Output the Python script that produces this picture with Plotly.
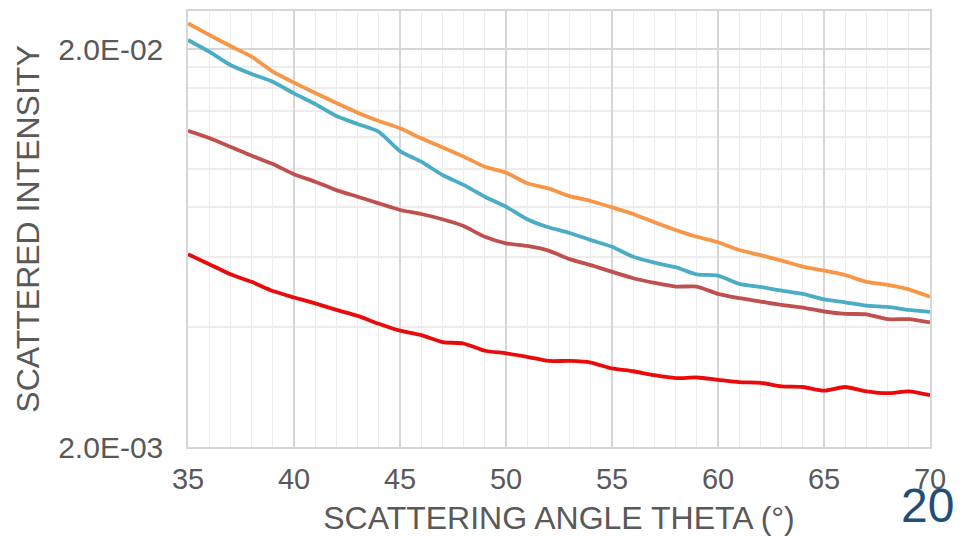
import plotly.graph_objects as go

# scattering angle, degrees
theta = list(range(35, 71))

# scattered intensity
orange = [0.02320, 0.02170, 0.02035, 0.01913, 0.01754, 0.01646, 0.01550, 0.01463, 0.01384,
          0.01319, 0.01264, 0.01193, 0.01132, 0.01073, 0.01012, 0.00978, 0.00920, 0.00893,
          0.00854, 0.00830, 0.00800, 0.00770, 0.00734, 0.00702, 0.00675, 0.00654, 0.00625,
          0.00607, 0.00588, 0.00568, 0.00555, 0.00541, 0.00520, 0.00511, 0.00498, 0.00477]
teal = [0.02107, 0.01969, 0.01823, 0.01731, 0.01655, 0.01547, 0.01455, 0.01357, 0.01296,
        0.01239, 0.01108, 0.01042, 0.00965, 0.00911, 0.00851, 0.00803, 0.00747, 0.00713,
        0.00690, 0.00662, 0.00637, 0.00601, 0.00581, 0.00566, 0.00543, 0.00539, 0.00514,
        0.00505, 0.00494, 0.00485, 0.00470, 0.00462, 0.00453, 0.00450, 0.00442, 0.00437]
brown = [0.01246, 0.01195, 0.01136, 0.01079, 0.01028, 0.00969, 0.00928, 0.00884, 0.00851,
         0.00819, 0.00788, 0.00770, 0.00747, 0.00718, 0.00675, 0.00650, 0.00640, 0.00623,
         0.00593, 0.00573, 0.00551, 0.00531, 0.00517, 0.00506, 0.00506, 0.00485, 0.00473,
         0.00464, 0.00455, 0.00448, 0.00438, 0.00432, 0.00431, 0.00419, 0.00419, 0.00411]
red = [0.00610, 0.00576, 0.00543, 0.00520, 0.00493, 0.00475, 0.00459, 0.00442, 0.00427,
       0.00408, 0.00392, 0.00382, 0.00367, 0.00364, 0.00349, 0.00344, 0.00337, 0.00329,
       0.00329, 0.00326, 0.00315, 0.00310, 0.00303, 0.00298, 0.00299, 0.00295, 0.00291,
       0.00290, 0.00284, 0.00283, 0.00277, 0.00283, 0.00276, 0.00273, 0.00276, 0.00270]

y_ticks = [0.002, 0.02]
y_tick_text = ["2.0E-03", "2.0E-02"]
y_minor = [0.004, 0.006, 0.008, 0.010, 0.012, 0.014, 0.016, 0.018]

series = [
    (orange, "#F79646"),
    (teal, "#4BACC6"),
    (brown, "#C0504D"),
    (red, "#EA0A0A"),
]

fig = go.Figure()
for values, color in series:
    fig.add_trace(go.Scatter(
        x=theta, y=values, mode="lines",
        line=dict(color=color, width=3.8, shape="spline", smoothing=0.6),
        showlegend=False,
    ))

text_color = "#595959"
# the page body adds an 8px offset, so the figure is 8px smaller than the window
fig.update_layout(
    width=955, height=528,
    margin=dict(l=180, r=33, t=3, b=89),
    paper_bgcolor="white", plot_bgcolor="white",
    font=dict(family="Liberation Sans, Arial, sans-serif", color=text_color),
)
fig.update_xaxes(
    range=[35, 70], tickvals=[35, 40, 45, 50, 55, 60, 65, 70],
    tickfont=dict(size=29, color=text_color), ticklabelstandoff=5,
    showgrid=True, gridcolor="#D6D6D6", gridwidth=1.5,
    minor=dict(dtick=1, showgrid=True, gridcolor="#EDEDED", gridwidth=1),
    showline=True, linecolor="#D6D6D6", linewidth=1.5, mirror=True,
    zeroline=False, automargin=False,
    title=dict(text="SCATTERING ANGLE THETA (°)", font=dict(size=32, color=text_color), standoff=17),
)
fig.update_yaxes(
    type="log", range=[-2.69897, -1.6035],
    tickvals=y_ticks, ticktext=y_tick_text,
    tickfont=dict(size=30, color=text_color), ticklabelstandoff=17,
    showgrid=True, gridcolor="#D6D6D6", gridwidth=1.5,
    minor=dict(tickmode="array", tickvals=y_minor, showgrid=True,
               gridcolor="#EDEDED", gridwidth=1.5),
    showline=True, linecolor="#D6D6D6", linewidth=1.5, mirror=True,
    zeroline=False, automargin=False,
    title=dict(text="SCATTERED INTENSITY", font=dict(size=32, color=text_color), standoff=9),
)
fig.add_annotation(
    text="20", xref="paper", yref="paper", x=0.996, y=-0.135,
    xanchor="center", yanchor="middle", showarrow=False,
    font=dict(size=48, color="#1F4E79", family="Liberation Sans, Arial, sans-serif"),
)

fig.write_html("out.html")
